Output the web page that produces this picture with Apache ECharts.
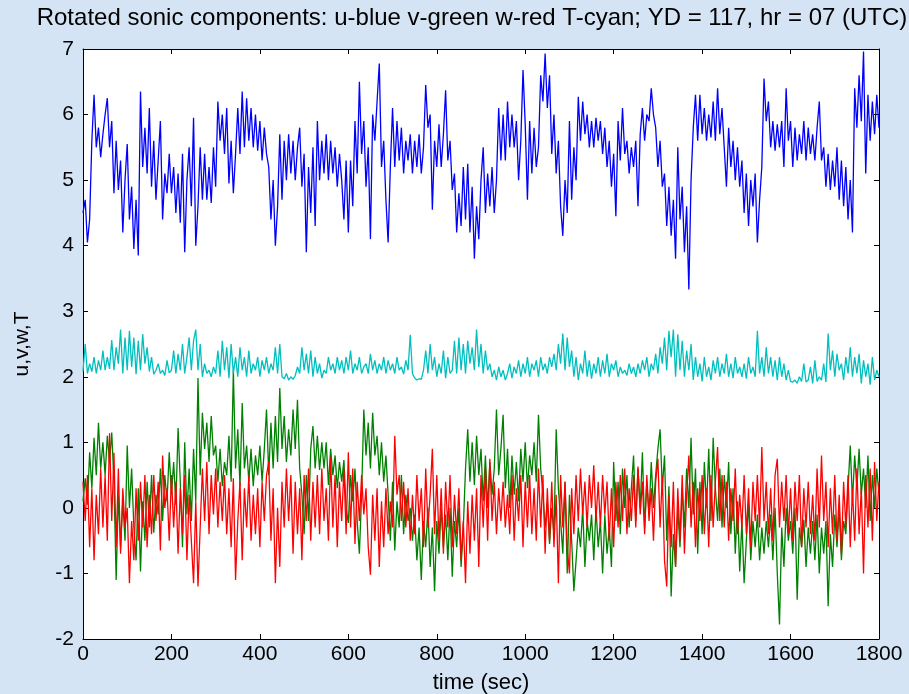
<!DOCTYPE html>
<html>
<head>
<meta charset="utf-8">
<script src="https://cdn.jsdelivr.net/npm/echarts@6/dist/echarts.min.js"></script>
<style>
html,body{margin:0;padding:0;background:#d5e4f4;}
#chart{width:909px;height:694px;}
</style>
</head>
<body>
<div id="chart"></div>
<script>
// sample step (seconds) and series values
const timeStep = 5;
const xTicks = [0, 200, 400, 600, 800, 1000, 1200, 1400, 1600, 1800];
const yTicks = [-2, -1, 0, 1, 2, 3, 4, 5, 6, 7];

const uBlue = [
4.5,4.7,4.05,4.4,5.6,6.3,5.5,5.8,5.35,5.7,
6.0,6.25,5.5,5.9,4.8,5.6,4.85,5.3,4.2,5.0,
5.55,4.4,4.9,3.95,4.7,3.85,6.35,5.2,5.8,5.1,
6.1,4.9,5.6,4.7,5.3,5.9,4.4,5.1,4.8,5.4,
4.8,5.2,4.5,5.1,4.35,5.4,3.9,5.0,5.5,4.6,
5.95,4.0,4.6,5.5,4.7,5.4,4.7,5.2,4.65,5.5,
4.9,6.2,5.6,6.0,5.4,6.1,4.95,5.6,4.8,5.4,
6.1,5.4,6.35,5.5,6.25,5.6,6.1,5.5,6.0,5.45,
5.9,5.3,5.8,5.4,5.2,4.4,5.0,4.0,4.6,5.7,
4.7,5.6,5.0,5.7,5.1,5.6,5.0,5.5,5.8,4.9,
5.4,3.9,5.2,4.5,5.5,4.3,5.9,5.0,5.6,5.1,
5.7,5.0,5.6,5.1,5.5,4.9,5.4,5.0,4.4,5.3,
4.2,5.3,4.6,5.9,5.1,6.5,5.4,5.9,4.9,5.5,
4.1,6.0,5.6,6.2,6.78,5.2,5.6,4.7,4.05,5.2,
6.1,5.2,5.9,5.3,5.8,5.1,5.6,5.3,5.7,5.1,
5.6,5.2,5.7,5.1,5.5,6.45,5.8,6.0,4.55,5.6,
5.2,5.85,5.2,5.7,6.37,5.3,5.6,4.85,5.1,4.2,
4.8,4.3,5.2,4.4,5.25,4.2,4.9,3.8,4.6,4.1,
5.0,5.5,4.5,5.1,4.6,5.2,4.5,5.0,6.1,5.3,
6.0,5.3,6.2,5.5,6.0,5.5,5.9,5.0,5.6,6.68,
5.85,4.7,5.9,5.1,5.8,5.2,5.5,6.6,6.2,6.93,
6.1,6.6,5.4,6.0,5.1,5.6,4.6,4.15,5.0,4.5,
5.9,4.7,5.5,5.0,6.27,5.6,6.2,5.7,6.0,5.5,
5.9,5.5,5.95,5.6,5.9,5.4,5.8,5.2,5.6,4.9,
5.4,4.45,5.9,5.3,6.1,5.4,5.6,5.1,5.5,5.2,
5.6,4.6,5.7,6.1,5.6,6.0,5.9,6.4,6.0,5.8,
5.2,5.6,4.9,5.1,4.3,4.9,4.15,4.7,3.8,5.5,
4.4,4.9,3.9,4.6,3.33,5.0,5.8,6.3,5.6,6.3,
5.7,6.1,5.6,6.0,5.65,6.2,5.6,6.4,5.7,6.1,
5.5,4.9,5.8,5.2,5.6,5.0,5.5,4.9,5.3,4.5,
5.1,4.3,5.0,4.6,5.1,4.05,4.7,5.2,6.55,5.9,
6.2,5.5,5.9,5.45,5.85,5.5,5.9,5.2,6.4,5.6,
5.9,5.2,5.8,5.3,5.7,5.4,5.9,5.3,5.8,5.4,
5.7,5.3,5.8,6.2,5.3,5.5,4.9,5.4,4.85,5.3,
4.9,5.5,4.7,5.3,4.6,5.2,4.4,5.0,4.2,6.4,
5.8,6.6,5.9,6.96,5.1,6.3,5.6,6.2,5.7,6.3,5.8
];

const vGreen = [
0.1,0.45,0.05,0.85,0.3,1.07,0.5,1.3,0.6,1.0,
0.5,1.1,0.7,1.15,0.4,-1.1,0.2,-0.6,0.1,-0.5,
0.95,0.0,0.6,-0.3,-0.8,0.3,-0.97,0.1,-0.5,0.4,
-0.3,0.5,-0.38,0.2,-0.1,0.6,-0.2,0.5,0.1,0.85,
0.2,0.7,0.05,1.22,0.4,-0.6,1.0,-0.1,0.6,-0.2,
0.9,0.1,1.98,0.5,1.45,0.9,1.3,0.7,1.4,0.8,
0.95,0.4,0.9,0.33,0.7,0.5,1.1,0.4,2.1,0.6,
1.2,0.33,1.6,0.6,0.95,0.4,0.9,0.33,0.8,0.5,
0.95,0.4,0.9,1.5,0.5,1.3,0.6,1.4,0.7,1.83,
0.9,1.4,0.7,1.2,0.8,1.5,0.9,1.65,0.6,0.2,
-0.4,0.5,-0.2,0.9,1.25,0.6,1.1,0.58,1.0,0.6,
1.0,0.35,0.9,0.5,0.8,0.3,0.7,0.4,0.73,0.0,
-0.23,0.5,0.1,0.6,-0.2,-0.7,0.2,1.5,0.8,1.3,
0.6,1.45,0.8,1.1,0.5,1.0,0.4,0.8,0.2,-0.5,
0.4,-0.65,0.1,-0.3,0.5,-0.4,0.2,-0.2,0.0,-0.5,
-0.1,-0.8,-0.3,-1.1,-0.2,-0.6,0.0,-0.9,-0.3,-1.27,
-0.2,-0.7,0.0,-0.6,-0.1,-0.8,0.0,-1.05,-0.2,-0.6,
0.0,-0.9,-0.3,0.6,1.2,0.4,1.0,0.35,1.1,0.5,
0.9,0.1,0.8,0.0,0.7,0.2,0.6,1.5,0.5,0.9,
1.42,0.3,0.9,0.0,0.8,0.2,0.7,0.1,0.9,0.4,
1.0,0.3,0.8,0.5,1.0,0.4,1.42,0.6,0.2,-0.3,
0.1,-0.55,0.0,-0.4,1.2,0.3,-0.2,-0.7,0.4,-1.0,
0.2,-0.5,-1.27,-0.8,-0.3,-0.6,0.0,-0.9,-0.2,-0.5,
-0.1,-0.8,0.0,-0.6,-0.2,-1.0,-0.1,-0.7,-0.3,-0.9,
0.7,-0.2,0.4,-0.4,0.6,0.0,0.5,-0.3,0.3,0.8,
-0.2,0.6,0.0,0.85,-0.3,0.4,-0.1,0.7,0.0,0.5,
0.9,1.2,0.3,0.8,-0.5,0.33,-1.35,-0.4,-0.9,0.0,
-0.6,0.3,-0.3,0.6,0.0,1.07,-0.1,0.6,-0.7,0.4,
-0.4,0.7,0.0,0.9,-0.2,1.07,0.3,-0.2,0.6,-0.3,
0.5,0.0,0.7,-0.4,0.3,-0.7,0.1,-0.97,-0.2,-1.15,
-0.5,0.08,-0.8,-0.2,-0.6,-0.1,-0.8,-0.3,-0.7,-0.2,
-0.6,-0.1,-0.8,0.0,-1.0,-1.78,-0.3,-0.9,0.0,-0.5,
-0.2,-0.7,0.0,-1.4,-0.3,-0.6,-0.18,-0.9,-0.3,-0.7,
-0.2,-0.8,-0.1,-1.0,-0.3,-0.7,-0.2,-1.5,-0.4,-0.9,
-0.1,-0.6,0.0,-0.8,-0.2,-0.4,0.3,0.95,0.1,0.8,
0.3,0.9,0.2,0.6,0.0,0.8,-0.2,0.5,0.0,0.6,0.2
];

const wRed = [
0.4,-0.2,0.5,-0.6,0.3,-0.8,0.2,-0.4,0.6,-0.3,
0.5,-0.5,1.14,-0.2,0.84,-0.6,0.6,-0.7,0.3,-0.3,
0.0,-1.15,-0.2,-0.8,0.3,-0.5,0.4,-0.3,0.5,-0.6,
0.2,-0.4,0.5,-0.2,0.4,-0.65,0.8,0.0,0.3,-0.5,
0.5,-0.3,0.4,-0.7,0.3,-0.4,0.5,-0.8,0.2,-0.5,
-1.15,0.1,-1.2,-0.3,0.6,-0.2,0.7,-0.4,0.5,-0.1,
0.6,-0.3,0.4,-0.2,0.5,-0.4,0.3,-0.6,0.45,-1.1,
-0.2,0.4,-0.8,0.3,-0.3,0.5,-0.5,0.2,-0.4,0.3,
-0.6,0.4,-0.2,0.5,0.7,-0.5,0.3,-1.15,0.0,-0.9,
0.4,-0.3,0.6,-0.2,0.5,-0.7,0.4,-0.4,0.3,-0.8,
0.5,-0.2,0.6,-0.5,0.4,-0.3,0.5,-0.4,0.6,-0.2,
0.3,-0.5,0.78,-0.3,0.5,-0.6,0.4,-0.2,0.6,-0.4,
0.85,-0.3,0.6,-0.55,0.4,-0.2,0.5,-0.1,0.3,-0.6,
-1.02,0.2,-0.5,0.3,-0.9,0.1,-0.6,0.3,-0.4,0.1,
-0.3,1.1,0.2,0.5,-0.2,0.4,-0.3,0.3,-0.5,0.2,
-0.4,0.5,-0.2,0.3,-0.6,0.6,-0.3,0.2,0.9,-0.4,
0.5,-0.5,0.3,-0.7,0.4,-0.3,0.5,-0.6,0.2,-0.4,
0.3,-0.8,-0.2,-1.15,0.1,-0.7,0.2,-0.5,0.3,-0.9,
0.5,-0.3,0.6,-0.5,0.75,-0.2,0.4,-0.4,0.3,-0.2,
0.4,-0.3,0.2,-0.4,0.5,-0.5,0.3,-0.2,0.5,-0.6,
0.4,-0.3,0.5,-0.4,0.3,-0.5,0.6,-0.3,0.5,-0.7,
0.3,-0.5,0.4,-0.6,0.2,-1.15,0.5,-0.3,0.4,-0.6,
-1.0,0.3,-0.4,0.5,-0.2,0.6,-0.1,0.4,-0.3,0.5,
0.0,0.65,-0.2,0.4,-0.28,0.5,-0.1,0.4,-0.5,0.3,
-0.6,0.4,-0.3,0.5,-0.2,0.6,-0.4,0.3,-0.2,0.5,
-0.3,0.63,-0.1,0.4,-0.4,0.5,-0.2,0.3,-0.5,0.4,
0.75,-0.3,0.5,-0.8,-1.2,0.2,-0.6,0.4,-0.9,0.3,
-0.5,0.5,-0.7,0.2,0.8,-0.3,0.4,-0.6,0.3,-0.2,
0.5,-0.4,0.3,-0.6,0.5,-0.3,0.4,0.93,-0.2,0.5,
-0.3,0.4,-0.5,0.3,-0.2,0.6,-0.4,0.2,-0.3,0.5,
-0.4,0.3,-0.6,0.4,-0.2,0.5,-0.3,0.93,-0.2,0.4,
-0.4,0.3,-0.5,0.5,0.75,-0.3,0.4,-0.2,0.5,-0.4,
0.3,-0.5,0.4,-0.2,0.5,-0.6,0.3,-0.3,0.4,-0.4,
0.2,-0.5,0.6,-0.3,0.8,-0.2,0.4,-0.6,0.3,-0.4,
0.5,-0.5,0.2,-0.7,0.4,-0.3,0.5,-0.6,0.3,-0.5,
0.6,-0.4,0.3,-1.0,0.5,-0.3,0.6,-0.5,0.7,-0.2,0.4
];

const tCyan = [
2.08,2.5,2.05,2.2,2.08,2.3,2.05,2.25,2.1,2.4,
2.1,2.3,2.12,2.56,2.1,2.45,2.2,2.72,2.05,2.6,
2.1,2.7,2.15,2.6,2.04,2.55,2.1,2.65,2.2,2.45,
2.08,2.3,2.04,2.1,2.2,2.05,2.1,2.02,2.25,2.06,
2.1,2.4,2.05,2.35,2.1,2.5,2.05,2.3,2.6,2.1,
2.55,2.72,2.1,2.5,2.0,2.2,2.05,2.1,2.0,2.15,
2.05,2.4,2.0,2.55,2.1,2.45,1.98,2.5,2.05,2.3,
2.0,2.45,2.1,2.3,2.0,2.4,2.05,2.2,2.1,2.3,
2.0,2.25,2.1,2.3,2.05,2.2,2.1,2.45,2.05,2.5,
2.0,1.97,2.05,1.95,2.0,1.96,2.02,2.15,2.05,2.45,
2.1,2.35,2.05,2.4,2.0,2.3,2.05,2.2,1.98,2.1,
2.05,2.3,2.1,2.2,2.05,2.3,2.1,2.25,2.05,2.3,
2.1,2.4,2.05,2.2,2.1,2.3,2.05,2.15,2.2,2.05,
2.35,2.1,2.25,2.05,2.2,2.1,2.3,2.05,2.25,2.1,
2.2,2.05,2.3,2.1,2.15,2.04,2.25,2.1,2.64,2.05,
1.98,1.95,1.97,1.96,2.1,2.4,2.05,2.5,2.1,2.3,
2.0,2.2,2.05,2.4,1.98,2.3,2.05,2.1,2.55,2.05,
2.6,2.1,2.5,2.05,2.55,2.2,2.45,2.1,2.72,2.15,
2.5,2.05,2.4,2.1,2.2,2.0,2.1,1.95,2.15,2.0,
2.1,1.95,2.05,2.2,1.98,2.15,2.05,2.25,2.0,2.2,
2.05,2.3,2.0,2.2,2.1,2.25,2.0,2.3,2.1,2.2,
2.05,2.3,2.15,2.35,2.1,2.5,2.2,2.66,2.1,2.6,
2.15,2.4,2.0,2.3,1.95,2.2,2.05,2.4,2.0,2.25,
1.97,2.2,2.05,2.3,2.0,2.25,2.05,2.35,2.0,2.2,
2.1,2.25,2.0,2.15,2.05,2.1,2.02,2.2,2.05,2.15,
2.0,2.2,2.05,2.25,2.1,2.3,2.0,2.2,2.1,2.35,
2.05,2.45,2.2,2.6,2.1,2.7,2.3,2.72,2.0,2.65,
2.1,2.55,2.0,2.4,2.1,2.5,1.95,2.3,2.0,2.2,
1.93,2.3,2.0,2.15,1.95,2.25,2.05,2.3,2.0,2.2,
2.05,2.35,2.0,2.2,1.98,2.3,2.05,2.15,2.0,2.2,
1.97,2.3,2.05,2.15,2.0,2.7,2.05,2.3,2.0,2.45,
2.05,2.3,2.0,2.25,1.95,2.3,2.0,2.2,1.95,2.1,
1.93,1.92,1.95,1.9,2.0,1.93,2.2,1.92,1.95,2.15,
1.9,2.25,1.93,2.0,1.95,2.2,1.92,2.66,2.1,2.4,
2.0,2.35,2.1,2.2,1.95,2.3,2.05,2.45,2.0,2.3,
2.05,2.35,1.9,2.25,2.0,2.2,1.88,2.3,1.95,2.1,2.0
];

const titleText = 'Rotated sonic components: u-blue v-green w-red T-cyan; YD = 117, hr = 07 (UTC)';
const xName = 'time (sec)';
const yName = 'u,v,w,T';

function pairs(arr) {
  return arr.map((v, i) => [i * timeStep, v]);
}

const chart = echarts.init(document.getElementById('chart'), null, {renderer: 'canvas'});
const FONT = 'Liberation Sans, Arial, Helvetica, sans-serif';

const axisCommonX = {
  type: 'value', min: xTicks[0], max: xTicks[xTicks.length - 1], interval: 200,
  axisLine: {show: true, onZero: false, lineStyle: {color: '#000', width: 1}},
  axisTick: {show: true, inside: true, length: 5, lineStyle: {color: '#000'}},
  splitLine: {show: false}
};
const axisCommonY = {
  type: 'value', min: yTicks[0], max: yTicks[yTicks.length - 1], interval: 1,
  axisLine: {show: true, onZero: false, lineStyle: {color: '#000', width: 1}},
  axisTick: {show: true, inside: true, length: 5, lineStyle: {color: '#000'}},
  splitLine: {show: false}
};

const lineSeries = (name, data, color) => ({
  name, type: 'line', data: pairs(data), showSymbol: false, symbol: 'none',
  lineStyle: {color, width: 1.3}, itemStyle: {color}, animation: false, silent: true
});

chart.setOption({
  backgroundColor: '#d5e4f4',
  animation: false,
  title: {
    text: titleText, left: 467, top: 1, textAlign: 'center',
    textStyle: {fontFamily: FONT, fontSize: 24, fontWeight: 'normal', color: '#000'}
  },
  grid: {left: 83, right: 30, top: 49, bottom: 55, backgroundColor: '#fff', show: true, borderWidth: 0,
    containLabel: false, outerBoundsMode: 'none'},
  xAxis: [
    Object.assign({}, axisCommonX, {
      position: 'bottom', name: xName, nameLocation: 'middle', nameGap: 33,
      nameTextStyle: {fontFamily: FONT, fontSize: 22, color: '#000'},
      axisLabel: {show: true, margin: 5, fontFamily: FONT, fontSize: 21, color: '#000',
        formatter: v => String(v)}
    }),
    Object.assign({}, axisCommonX, {position: 'top', axisLabel: {show: false}})
  ],
  yAxis: [
    Object.assign({}, axisCommonY, {
      position: 'left', name: yName, nameLocation: 'middle', nameGap: 50,
      nameTextStyle: {fontFamily: FONT, fontSize: 21, color: '#000'},
      axisLabel: {show: true, margin: 9, fontFamily: FONT, fontSize: 21, color: '#000',
        formatter: v => String(v)}
    }),
    Object.assign({}, axisCommonY, {position: 'right', axisLabel: {show: false}})
  ],
  series: [
    lineSeries('u', uBlue, '#0000ff'),
    lineSeries('v', vGreen, '#008000'),
    lineSeries('w', wRed, '#ff0000'),
    lineSeries('T', tCyan, '#00bfbf')
  ]
});
</script>
</body>
</html>
